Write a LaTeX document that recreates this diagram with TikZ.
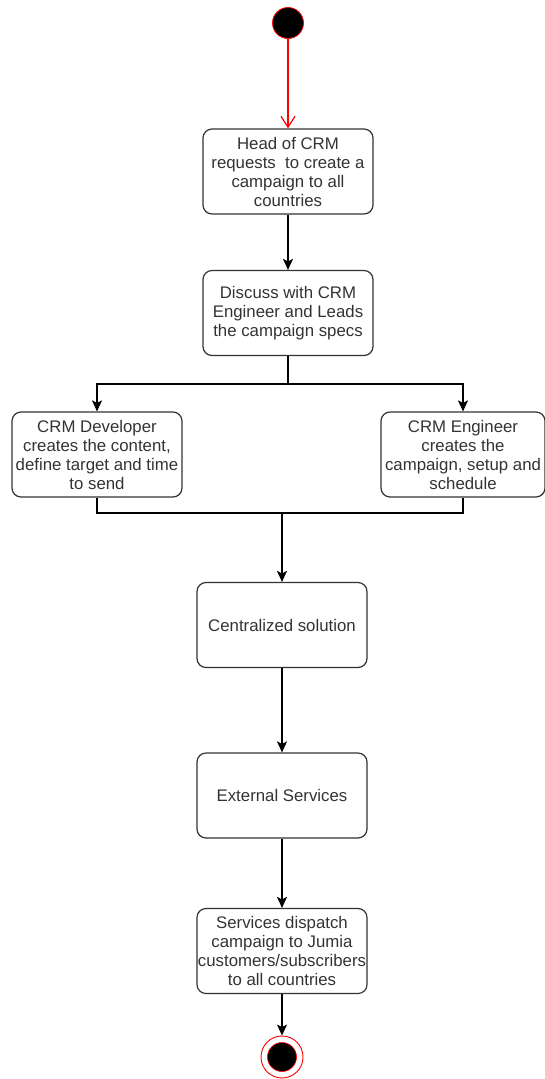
\documentclass[tikz,border=0pt]{standalone}
\usepackage{fontspec}
\setmainfont{Liberation Sans}
\usetikzlibrary{arrows.meta}
\definecolor{FlowRed}{HTML}{FF0000}
\definecolor{BoxLine}{HTML}{333333}
\definecolor{BoxText}{HTML}{333333}

\begin{document}
\begin{tikzpicture}[x=1pt, y=-1pt, line width=1.2pt,
  >={Stealth[length=11pt, width=10pt, inset=2.5pt]},
  actbox/.style={draw=BoxLine, rounded corners=9pt, align=center,
    text=BoxText, minimum width=170pt, minimum height=85pt, inner sep=1pt,
    font=\fontsize{16.8}{19}\selectfont},
  startdot/.style={circle, fill=black, draw=FlowRed, line width=0.8pt,
    minimum size=31pt, inner sep=0pt},
  enddot/.style={circle, draw=FlowRed, line width=0.9pt, minimum size=42pt,
    inner sep=0pt, path picture={\filldraw[fill=black, draw=FlowRed, line width=0.6pt]
      (path picture bounding box.center) circle (14.5pt);}}]
  \useasboundingbox (0,0) rectangle (545,1079);

  % activities
  \node[actbox] (head) at (288,171.5)
    {Head of CRM\\requests\ \ to create a\\campaign to all\\countries};
  \node[actbox] (discuss) at (288,313)
    {Discuss with CRM\\Engineer and Leads\\the campaign specs};
  \node[actbox] (dev) at (97,454.5)
    {CRM Developer\\creates the content,\\define target and time\\to send};
  \node[actbox, minimum width=164pt] (eng) at (463,454.5)
    {CRM Engineer\\creates the\\campaign, setup and\\schedule};
  \node[actbox] (central) at (282,625) {Centralized solution};
  \node[actbox] (external) at (282,795.5) {External Services};
  \node[actbox] (dispatch) at (282,951)
    {Services dispatch\\campaign to Jumia\\customers/subscribers\\to all countries};

  % start and end
  \node[startdot] (start) at (288,23) {};
  \node[enddot] (finish) at (282,1057) {};

  % flow
  \draw[-{Straight Barb[length=11pt, width=14pt]}, FlowRed] (start) -- (head);
  \draw[->] (head) -- (discuss);
  \coordinate (fork) at (288,384);
  \draw (discuss) -- (fork);
  \draw[->] (fork) -| (dev);
  \draw[->] (fork) -| (eng);
  \coordinate (join) at (282,513);
  \draw (dev) |- (join);
  \draw (eng) |- (join);
  \draw[->] (join) -- (central);
  \draw[->] (central) -- (external);
  \draw[->] (external) -- (dispatch);
  \draw[->] (dispatch) -- (finish);
\end{tikzpicture}
\end{document}
